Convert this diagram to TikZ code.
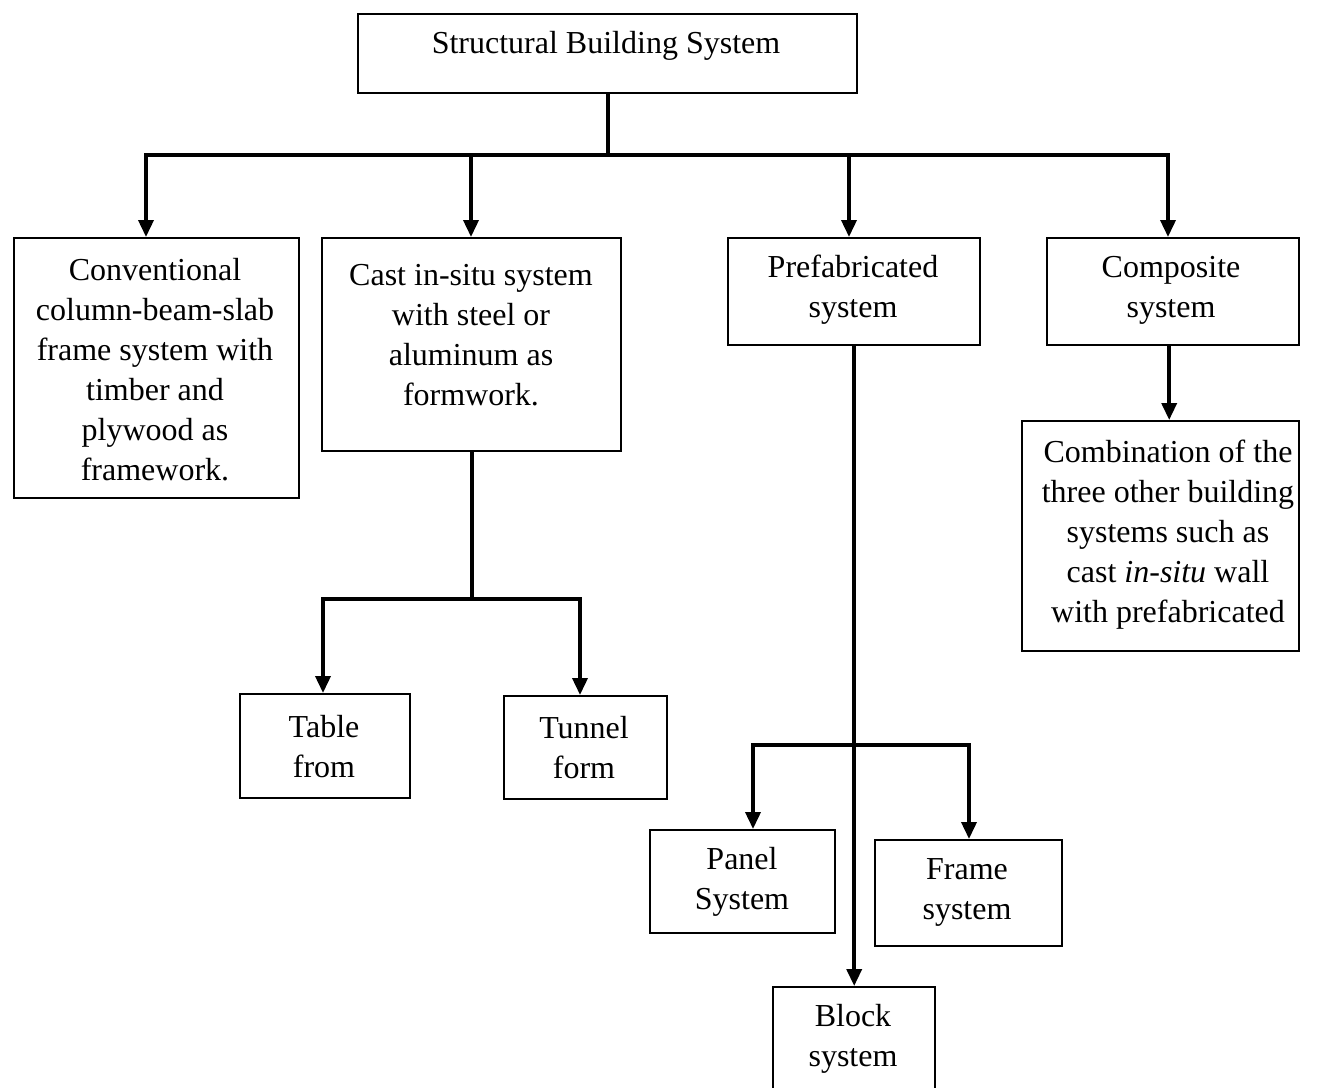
\documentclass[tikz,border=0pt]{standalone}
\usepackage{fontspec}
\setmainfont{Liberation Serif}
\usetikzlibrary{arrows.meta}
\tikzset{
  box/.style={draw, line width=2.4pt, inner sep=0pt, anchor=north west},
  txt/.style={align=center, inner sep=0pt, font=\fontsize{32}{40}\selectfont},
  wire/.style={line width=3.6pt, line cap=rect},
  arr/.style={line width=3.6pt, -{Triangle[width=15pt,length=17pt]}}
}
\begin{document}
\begin{tikzpicture}[x=1pt,y=-1pt]
\useasboundingbox (0,0) rectangle (1322,1087);
\clip (0,0) rectangle (1322,1087);
% boxes
\node[box, minimum width=499pt, minimum height=79pt]  (top)    at (357,13) {};
\node[box, minimum width=285pt, minimum height=260pt] (conv)   at (13,237) {};
\node[box, minimum width=299pt, minimum height=213pt] (cast)   at (321,237) {};
\node[box, minimum width=252pt, minimum height=107pt] (prefab) at (727,237) {};
\node[box, minimum width=252pt, minimum height=107pt] (comp)   at (1046,237) {};
\node[box, minimum width=277pt, minimum height=230pt] (comb)   at (1021,420) {};
\node[box, minimum width=170pt, minimum height=104pt] (table)  at (239,693) {};
\node[box, minimum width=163pt, minimum height=103pt] (tunnel) at (503,695) {};
\node[box, minimum width=185pt, minimum height=103pt] (panel)  at (649,829) {};
\node[box, minimum width=187pt, minimum height=106pt] (frame)  at (874,839) {};
\node[box, minimum width=162pt, minimum height=114pt] (block)  at (772,986) {};
% texts
\node[txt] (topT)    at (606,46)   {Structural Building System};
\node[txt] (convT)   at (155,370)  {Conventional\\column-beam-slab\\frame system with\\timber and\\plywood as\\framework.};
\node[txt] (castT)   at (471,335)  {Cast in-situ system\\with steel or\\aluminum as\\formwork.};
\node[txt] (prefabT) at (853,290)  {Prefabricated\\system};
\node[txt] (compT)   at (1171,290) {Composite\\system};
\node[txt] (combT)   at (1168,535) {Combination of the\\three other building\\systems such as\\cast \textit{in-situ} wall\\with prefabricated};
\node[txt] (tableT)  at (324,747)  {Table\\from};
\node[txt] (tunnelT) at (584,748)  {Tunnel\\form};
\node[txt] (panelT)  at (742,882)  {Panel\\System};
\node[txt] (frameT)  at (967,892)  {Frame\\system};
\node[txt] (blockT)  at (853,1039) {Block\\system};
% main bus
\coordinate (b1) at (146,155);
\coordinate (b2) at (471,155);
\coordinate (b3) at (849,155);
\coordinate (b4) at (1168,155);
\draw[wire] (top.south) -- (top.south |- b1);
\draw[wire] (b1) -- (b4);
\draw[arr] (b1) -- (b1 |- conv.north);
\draw[arr] (b2) -- (b2 |- cast.north);
\draw[arr] (b3) -- (b3 |- prefab.north);
\draw[arr] (b4) -- (b4 |- comp.north);
% cast in-situ branch
\coordinate (c1) at (323,599);
\coordinate (c2) at (580,599);
\draw[wire] (cast.south) -- (cast.south |- c1);
\draw[wire] (c1) -- (c2);
\draw[arr] (c1) -- (c1 |- table.north);
\draw[arr] (c2) -- (c2 |- tunnel.north);
% prefabricated branch
\coordinate (p1) at (753,745);
\coordinate (p2) at (969,745);
\draw[arr] (prefab.south) -- (block.north);
\draw[wire] (p1) -- (p2);
\draw[arr] (p1) -- (p1 |- panel.north);
\draw[arr] (p2) -- (p2 |- frame.north);
% composite branch
\draw[arr] ([xshift=-4pt]comp.south) -- ([xshift=-4pt]comp.south |- comb.north);
\end{tikzpicture}
\end{document}
